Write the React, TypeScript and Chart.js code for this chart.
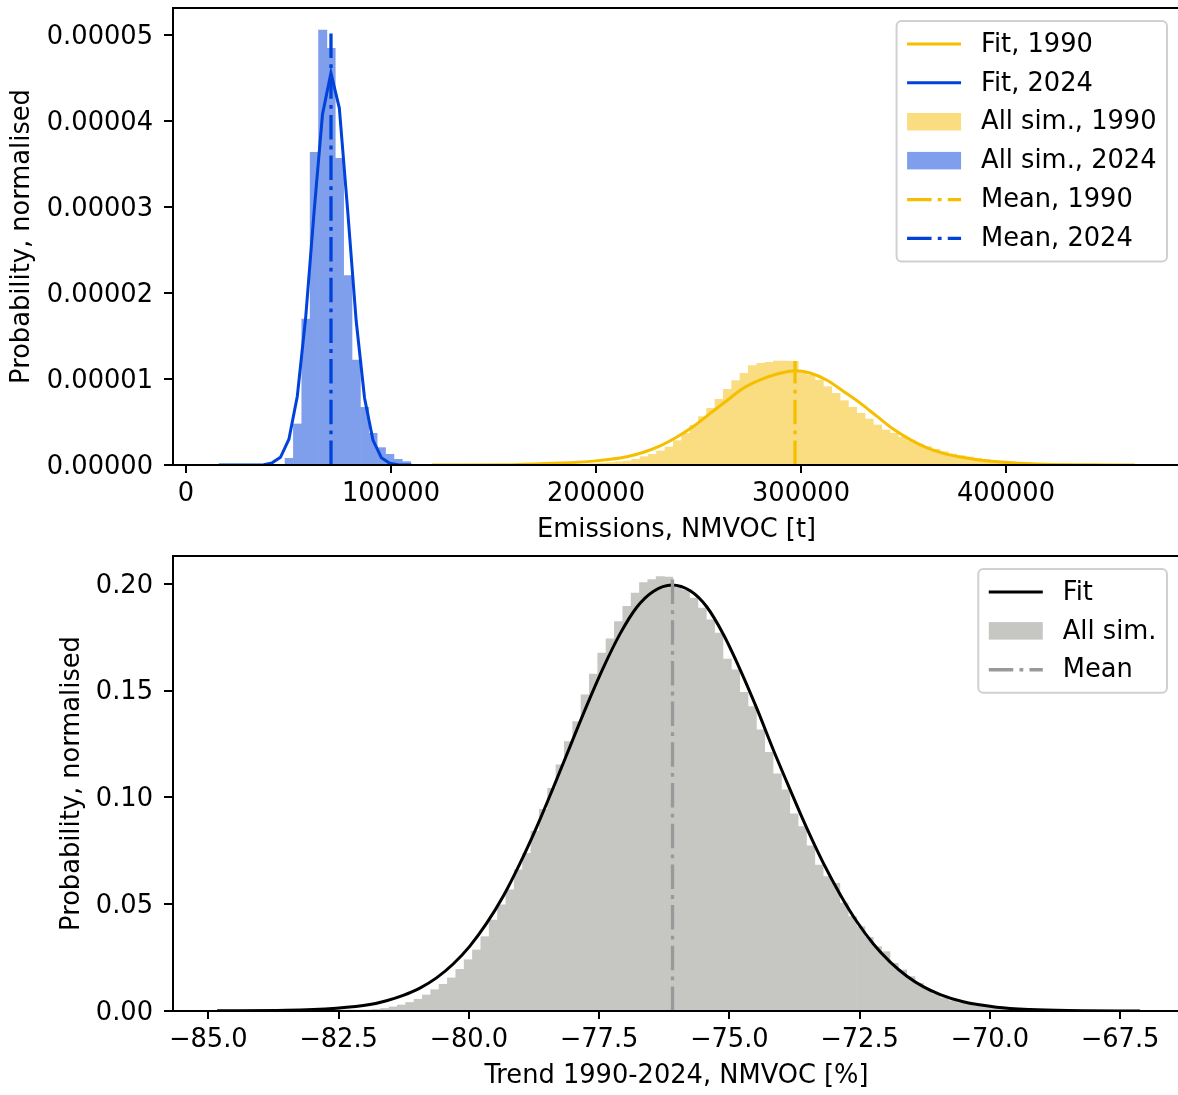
import React, { useEffect, useRef } from "react";
import { Chart, registerables } from "chart.js";

Chart.register(...registerables);

const FONT = '"DejaVu Sans", "Liberation Sans", sans-serif';
const FONT_SIZE = 25.7;
Chart.defaults.font.family = FONT;
Chart.defaults.font.size = FONT_SIZE;
Chart.defaults.color = "#000";

// ================= DATA: top panel (emissions, t) =================
const emissionTicks = [0, 100000, 200000, 300000, 400000];
const densityTicks = [0, 0.00001, 0.00002, 0.00003, 0.00004, 0.00005];
const emissionRange = [-6340, 484900];
const densityMax = 5.314e-5;
const DENSITY_UNIT = 1e-5; // the values below are in units of 1e-5 per t

// 2024 simulations histogram
const sim2024FirstBinCenter = 50340;
const sim2024BinWidth = 4088;
const sim2024Hist = [
  0.078, 0.477, 1.698, 3.636, 5.058, 4.845, 3.566, 2.202, 1.221, 0.67, 0.368,
  0.202, 0.124, 0.066, 0.039,
];

// 1990 simulations histogram
const sim1990FirstBinCenter = 186900;
const sim1990BinWidth = 4066;
const sim1990Hist = [
  0.003, 0.006, 0.01, 0.015, 0.021, 0.029, 0.038,
  0.047, 0.066, 0.097, 0.124, 0.163, 0.209, 0.283, 0.368, 0.461, 0.562, 0.659,
  0.764, 0.88, 0.981, 1.066, 1.155, 1.182,
  1.194, 1.209, 1.209, 1.205,
  1.074, 1.047, 0.988, 0.911, 0.833, 0.748, 0.671, 0.601, 0.535, 0.465, 0.407,
  0.368, 0.322, 0.283, 0.244, 0.213, 0.182, 0.155, 0.128, 0.109, 0.093, 0.078,
  0.066, 0.054,
  0.045, 0.037, 0.03, 0.024, 0.019, 0.015, 0.012, 0.009, 0.007, 0.005, 0.003,
  0.002,
];

// Fitted curves
const fit1990X = [
  120000, 160000, 182500, 198800, 206900, 215100, 223200, 231300, 239500,
  247600, 255700, 263900, 272000, 280100, 288300, 297200, 304500, 312700,
  320800, 328900, 337100, 345200, 353300, 361500, 369600, 377700, 385900,
  397300, 415000, 440000, 462800,
];
const fit1990Y = [
  0, 0.004, 0.022, 0.045, 0.066, 0.097, 0.148, 0.222, 0.325, 0.45, 0.6, 0.75,
  0.895, 0.99, 1.058, 1.097, 1.07, 0.985, 0.855, 0.72, 0.565, 0.415, 0.295, 0.2,
  0.135, 0.092, 0.062, 0.035, 0.012, 0.003, 0,
];
const fit2024X = [
  16000, 37900, 42000, 46100, 50200, 54300, 58400, 62500, 66600, 70700, 74800,
  78900, 83000, 87100, 91200, 95300, 99400, 103500, 110000,
];
const fit2024Y = [
  0, 0.004, 0.025, 0.09, 0.3, 0.8, 1.72, 2.95, 4.08, 4.56, 4.15, 2.95, 1.68,
  0.78, 0.29, 0.085, 0.02, 0.004, 0,
];
const mean1990 = 297100;
const mean2024 = 70730;

// ================= DATA: bottom panel (trend, %) =================
const trendTicks = [-85, -82.5, -80, -77.5, -75, -72.5, -70, -67.5];
const probabilityTicks = [0, 0.05, 0.1, 0.15, 0.2];
const trendRange = [-85.678, -66.349];
const probabilityMax = 0.2131;

const trendFirstBinCenter = -83.055;
const trendBinWidth = 0.16027;
const trendHist = [
  0.0001, 0.0001, 0.0001, 0.0001, 0.0001, 0.0002, 0.0003, 0.0005, 0.0008,
  0.0012, 0.0019, 0.0028, 0.004, 0.0055, 0.0075, 0.01, 0.0125, 0.0155, 0.0195,
  0.024, 0.0286, 0.0348, 0.0426, 0.0497, 0.0567, 0.0661, 0.0739, 0.0843,
  0.0945, 0.1043, 0.1153, 0.1262, 0.1356, 0.1481, 0.1578,
  0.1676, 0.1743, 0.1824, 0.1895, 0.1957, 0.2007, 0.202, 0.2035, 0.2032,
  0.1988, 0.1973, 0.1934, 0.1887, 0.1832, 0.177, 0.1648, 0.1598, 0.1492,
  0.1426, 0.1317, 0.1211, 0.1111, 0.1036, 0.0923, 0.0864, 0.0773, 0.0684,
  0.0629,
  0.0598, 0.0505, 0.0442, 0.0395, 0.0345, 0.0301, 0.0278, 0.0223, 0.0192,
  0.0161, 0.013, 0.0102, 0.008, 0.0062, 0.0048, 0.0039, 0.0031, 0.0025, 0.002,
  0.0017, 0.0014, 0.0011, 0.0009, 0.0007, 0.0005, 0.0004, 0.0003, 0.0002,
  0.0002, 0.0001, 0.0001, 0.0001, 0.0001, 0.0001, 0.0001, 0.0001, 0.0001,
];
const trendFitX = [
  -84.83, -83.5, -82.54, -81.9, -81.58, -81.26, -80.94, -80.62, -80.3, -79.98,
  -79.66, -79.34, -79.02, -78.7, -78.38, -78.06, -77.74, -77.42, -77.1,
  -76.78, -76.46, -76.1, -75.75, -75.43, -75.11, -74.79, -74.47, -74.16,
  -73.83, -73.51, -73.19, -72.87, -72.55, -72.23, -71.91, -71.59, -71.27,
  -70.95, -70.51, -69.87, -69.23, -68.5, -67.12,
];
const trendFitY = [
  0.0001, 0.0003, 0.0013, 0.003, 0.0048, 0.0073, 0.0107, 0.0155, 0.022,
  0.0304, 0.041, 0.0537, 0.069, 0.086, 0.1045, 0.1237, 0.1428, 0.1607, 0.1765,
  0.189, 0.1965, 0.1995, 0.1968, 0.1892, 0.1762, 0.1598, 0.1416, 0.1226,
  0.1035, 0.0855, 0.069, 0.0545, 0.0418, 0.0313, 0.0229, 0.0163, 0.0113,
  0.0077, 0.0043, 0.0018, 0.0007, 0.0002, 0,
];
const trendMean = -76.09;

// ================= STYLES =================
const YELLOW_LINE = "#F5BF00";
const YELLOW_FILL = "#F9DD80";
const BLUE_LINE = "#0042DA";
const BLUE_FILL = "#7F9FEC";
const GREY_FILL = "#C6C7C3";
const GREY_MEAN = "#999999";
const DASH_DOT = [24.5, 6.2, 3.8, 6.2];

function histPoints(first: number, width: number, values: number[], unit = 1) {
  return values.map((v, i) => ({ x: first + i * width, y: v * unit }));
}
function curvePoints(xs: number[], ys: number[], unit = 1) {
  return xs.map((x, i) => ({ x, y: ys[i] * unit }));
}

function roundRectPath(ctx: any, x: number, y: number, w: number, h: number, r: number) {
  ctx.moveTo(x + r, y);
  ctx.lineTo(x + w - r, y);
  ctx.arcTo(x + w, y, x + w, y + r, r);
  ctx.lineTo(x + w, y + h - r);
  ctx.arcTo(x + w, y + h, x + w - r, y + h, r);
  ctx.lineTo(x + r, y + h);
  ctx.arcTo(x, y + h, x, y + h - r, r);
  ctx.lineTo(x, y + r);
  ctx.arcTo(x, y, x + r, y, r);
  ctx.closePath();
}

const framePlugin = {
  id: "frame",
  afterDraw(chart: any) {
    const { ctx, chartArea: a } = chart;
    ctx.save();
    ctx.strokeStyle = "#000";
    ctx.lineWidth = 2;
    ctx.beginPath();
    ctx.moveTo(a.left, a.bottom);
    ctx.lineTo(a.left, a.top);
    ctx.lineTo(a.right, a.top);
    ctx.lineTo(a.right, a.bottom);
    ctx.closePath();
    ctx.stroke();
    ctx.restore();
  },
};

const boxLegendPlugin = {
  id: "boxLegend",
  afterDraw(chart: any, _args: any, opts: any) {
    const { ctx, chartArea: a } = chart;
    const items = chart.data.datasets;
    const { inset, rowStep, padY, padX, handleLen, textGap, patchH, radius } = opts;
    ctx.save();
    ctx.font = `${FONT_SIZE}px ${FONT}`;
    const textW = Math.max(...items.map((d: any) => ctx.measureText(String(d.label)).width));
    const w = padX * 2 + handleLen + textGap + textW;
    const h = padY * 2 + rowStep * items.length;
    const x0 = a.right - inset - w;
    const y0 = a.top + inset;
    ctx.beginPath();
    roundRectPath(ctx, x0, y0, w, h, radius);
    ctx.fillStyle = "rgba(255,255,255,0.8)";
    ctx.fill();
    ctx.lineWidth = 2;
    ctx.strokeStyle = "#d0d0d0";
    ctx.stroke();
    items.forEach((d: any, i: number) => {
      const cy = y0 + padY + rowStep * (i + 0.5);
      const hx = x0 + padX;
      if (d.type === "bar") {
        ctx.fillStyle = d.backgroundColor;
        ctx.fillRect(hx, cy - patchH / 2, handleLen, patchH);
      } else {
        ctx.beginPath();
        ctx.setLineDash(d.borderDash || []);
        ctx.lineWidth = d.borderWidth;
        ctx.strokeStyle = d.borderColor;
        ctx.lineCap = "butt";
        ctx.moveTo(hx, cy);
        ctx.lineTo(hx + handleLen, cy);
        ctx.stroke();
        ctx.setLineDash([]);
      }
      ctx.fillStyle = "#000";
      ctx.textAlign = "left";
      ctx.textBaseline = "middle";
      ctx.fillText(String(d.label), hx + handleLen + textGap, cy + 1);
    });
    ctx.restore();
  },
};

const legendOpts = {
  inset: 13,
  rowStep: 38.9,
  padY: 3.5,
  padX: 10.5,
  handleLen: 54,
  textGap: 20,
  patchH: 17.5,
  radius: 5,
};

function axisCommon(tickLength: number) {
  return {
    grid: {
      display: true,
      offset: false,
      drawOnChartArea: false,
      drawTicks: true,
      tickLength,
      tickWidth: 2,
      tickColor: "#000",
      lineWidth: 2,
      color: "#000",
    },
    border: { display: true, color: "#000", width: 2 },
  };
}

function fixX(height: number) {
  return (s: any) => {
    s.height = height;
    s.paddingLeft = 0;
    s.paddingRight = 0;
    s.paddingTop = 0;
    s.paddingBottom = 0;
  };
}
function fixY(width: number) {
  return (s: any) => {
    s.width = width;
    s.paddingLeft = 0;
    s.paddingRight = 0;
    s.paddingTop = 0;
    s.paddingBottom = 0;
  };
}

function barStyle(color: string) {
  return {
    backgroundColor: color,
    borderWidth: 0,
    barPercentage: 1,
    categoryPercentage: 1,
    grouped: false,
  };
}

function topConfig(): any {
  return {
    type: "line",
    data: {
      datasets: [
        {
          type: "line",
          label: "Fit, 1990",
          data: curvePoints(fit1990X, fit1990Y, DENSITY_UNIT),
          borderColor: YELLOW_LINE,
          borderWidth: 3,
          pointRadius: 0,
          fill: false,
          cubicInterpolationMode: "monotone",
          order: 4,
        },
        {
          type: "line",
          label: "Fit, 2024",
          data: curvePoints(fit2024X, fit2024Y, DENSITY_UNIT),
          borderColor: BLUE_LINE,
          borderWidth: 3,
          pointRadius: 0,
          fill: false,
          tension: 0,
          order: 3,
        },
        {
          type: "bar",
          label: "All sim., 1990",
          data: histPoints(sim1990FirstBinCenter, sim1990BinWidth, sim1990Hist, DENSITY_UNIT),
          ...barStyle(YELLOW_FILL),
          order: 6,
        },
        {
          type: "bar",
          label: "All sim., 2024",
          data: histPoints(sim2024FirstBinCenter, sim2024BinWidth, sim2024Hist, DENSITY_UNIT),
          ...barStyle(BLUE_FILL),
          order: 5,
        },
        {
          type: "line",
          label: "Mean, 1990",
          data: [
            { x: mean1990, y: 0 },
            { x: mean1990, y: Math.max(...sim1990Hist) * DENSITY_UNIT },
          ],
          borderColor: YELLOW_LINE,
          borderWidth: 3.3,
          borderDash: DASH_DOT,
          borderCapStyle: "butt",
          pointRadius: 0,
          fill: false,
          order: 2,
        },
        {
          type: "line",
          label: "Mean, 2024",
          data: [
            { x: mean2024, y: 0 },
            { x: mean2024, y: Math.max(...sim2024Hist) * DENSITY_UNIT },
          ],
          borderColor: BLUE_LINE,
          borderWidth: 3.3,
          borderDash: DASH_DOT,
          borderCapStyle: "butt",
          pointRadius: 0,
          fill: false,
          order: 1,
        },
      ],
    },
    options: {
      responsive: false,
      animation: false,
      devicePixelRatio: 1,
      events: [],
      layout: { padding: { left: 0, top: 8, right: 2, bottom: 0 } },
      plugins: {
        legend: { display: false },
        tooltip: { enabled: false },
        boxLegend: legendOpts,
      },
      scales: {
        x: {
          type: "linear",
          position: "bottom",
          min: emissionRange[0],
          max: emissionRange[1],
          offset: false,
          afterFit: fixX(85),
          afterBuildTicks: (s: any) => {
            s.ticks = emissionTicks.map((value) => ({ value }));
          },
          ticks: {
            autoSkip: false,
            maxRotation: 0,
            minRotation: 0,
            padding: 6,
            color: "#000",
            font: { size: FONT_SIZE },
            callback: (v: any) => String(v),
          },
          title: {
            display: true,
            text: "Emissions, NMVOC [t]",
            color: "#000",
            font: { size: FONT_SIZE },
            padding: { top: 0, bottom: 4 },
          },
          ...axisCommon(8),
        },
        y: {
          type: "linear",
          position: "left",
          min: 0,
          max: densityMax,
          afterFit: fixY(173),
          afterBuildTicks: (s: any) => {
            s.ticks = densityTicks.map((value) => ({ value }));
          },
          ticks: {
            padding: 11,
            labelOffset: 2,
            color: "#000",
            font: { size: FONT_SIZE },
            callback: (v: any) => Number(v).toFixed(5),
          },
          title: {
            display: true,
            text: "Probability, normalised",
            color: "#000",
            font: { size: FONT_SIZE },
            padding: { top: 7, bottom: 0 },
          },
          ...axisCommon(9),
        },
      },
    },
    plugins: [framePlugin, boxLegendPlugin],
  };
}

function bottomConfig(): any {
  return {
    type: "line",
    data: {
      datasets: [
        {
          type: "line",
          label: "Fit",
          data: curvePoints(trendFitX, trendFitY),
          borderColor: "#000000",
          borderWidth: 3,
          pointRadius: 0,
          fill: false,
          cubicInterpolationMode: "monotone",
          order: 2,
        },
        {
          type: "bar",
          label: "All sim.",
          data: histPoints(trendFirstBinCenter, trendBinWidth, trendHist),
          ...barStyle(GREY_FILL),
          order: 3,
        },
        {
          type: "line",
          label: "Mean",
          data: [
            { x: trendMean, y: 0 },
            { x: trendMean, y: Math.max(...trendHist) },
          ],
          borderColor: GREY_MEAN,
          borderWidth: 3.3,
          borderDash: DASH_DOT,
          borderCapStyle: "butt",
          pointRadius: 0,
          fill: false,
          order: 1,
        },
      ],
    },
    options: {
      responsive: false,
      animation: false,
      devicePixelRatio: 1,
      events: [],
      layout: { padding: { left: 0, top: 6, right: 2, bottom: 0 } },
      plugins: {
        legend: { display: false },
        tooltip: { enabled: false },
        boxLegend: legendOpts,
      },
      scales: {
        x: {
          type: "linear",
          position: "bottom",
          min: trendRange[0],
          max: trendRange[1],
          offset: false,
          afterFit: fixX(84),
          afterBuildTicks: (s: any) => {
            s.ticks = trendTicks.map((value) => ({ value }));
          },
          ticks: {
            autoSkip: false,
            maxRotation: 0,
            minRotation: 0,
            padding: 6,
            color: "#000",
            font: { size: FONT_SIZE },
            callback: (v: any) => Number(v).toFixed(1).replace("-", "\u2212"),
          },
          title: {
            display: true,
            text: "Trend 1990-2024, NMVOC [%]",
            color: "#000",
            font: { size: FONT_SIZE },
            padding: { top: 0, bottom: 3 },
          },
          ...axisCommon(8),
        },
        y: {
          type: "linear",
          position: "left",
          min: 0,
          max: probabilityMax,
          afterFit: fixY(173),
          afterBuildTicks: (s: any) => {
            s.ticks = probabilityTicks.map((value) => ({ value }));
          },
          ticks: {
            padding: 11,
            labelOffset: 2,
            color: "#000",
            font: { size: FONT_SIZE },
            callback: (v: any) => Number(v).toFixed(2),
          },
          title: {
            display: true,
            text: "Probability, normalised",
            color: "#000",
            font: { size: FONT_SIZE },
            padding: { top: 57, bottom: 0 },
          },
          ...axisCommon(9),
        },
      },
    },
    plugins: [framePlugin, boxLegendPlugin],
  };
}

export default function App() {
  const topRef = useRef<HTMLCanvasElement>(null);
  const bottomRef = useRef<HTMLCanvasElement>(null);

  useEffect(() => {
    const c1 = new Chart(topRef.current as HTMLCanvasElement, topConfig());
    const c2 = new Chart(bottomRef.current as HTMLCanvasElement, bottomConfig());
    return () => {
      c1.destroy();
      c2.destroy();
    };
  }, []);

  return (
    <div
      style={{
        position: "fixed",
        left: 0,
        top: 0,
        width: 1178,
        height: 1095,
        overflow: "hidden",
        background: "#fff",
      }}
    >
      <canvas
        ref={topRef}
        width={1182}
        height={550}
        style={{ position: "absolute", left: 0, top: 0, width: 1182, height: 550 }}
      />
      <canvas
        ref={bottomRef}
        width={1182}
        height={545}
        style={{ position: "absolute", left: 0, top: 550, width: 1182, height: 545 }}
      />
    </div>
  );
}
